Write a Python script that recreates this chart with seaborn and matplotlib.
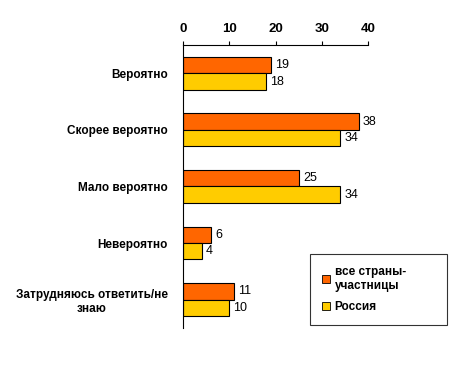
import pandas as pd
import matplotlib.pyplot as plt
import seaborn as sns

categories = ['Вероятно', 'Скорее вероятно', 'Мало вероятно', 'Невероятно',
              'Затрудняюсь ответить/не\nзнаю']
all_countries = [19, 38, 25, 6, 11]
russia = [18, 34, 34, 4, 10]
series_names = ['все страны-\nучастницы', 'Россия']
colors = ['#FF6600', '#FFCC00']

df = pd.DataFrame({
    'category': categories * 2,
    'value': all_countries + russia,
    'series': [series_names[0]] * 5 + [series_names[1]] * 5,
})

sns.set_style("white")
plt.rcParams['font.family'] = ['Liberation Sans', 'DejaVu Sans']
plt.rcParams['text.color'] = 'black'
plt.rcParams['xtick.color'] = 'black'
plt.rcParams['ytick.color'] = 'black'

fig = plt.figure(figsize=(4.59, 3.66), dpi=100)
ax = fig.add_axes([0.399, 0.104, 0.403, 0.773])

sns.barplot(data=df, y='category', x='value', hue='series', orient='h',
            palette=colors, saturation=1, width=0.58, edgecolor='black',
            linewidth=0.8, ax=ax, legend=False)

for cont in ax.containers:
    ax.bar_label(cont, padding=3, fontsize=9, color='black')

ax.set_xlim(0, 40)
ax.set_xticks([0, 10, 20, 30, 40])
ax.xaxis.tick_top()
ax.tick_params(axis='x', labelsize=9.5, length=3, width=0.8, direction='out',
               pad=4)
for lbl in ax.get_xticklabels():
    lbl.set_fontweight('bold')

ax.set_yticks(range(len(categories)))
ax.set_yticklabels(categories, fontweight='bold', fontsize=8.5, ha='right',
                   multialignment='center')
ax.tick_params(axis='y', length=0, pad=11)
ax.set_yticks([i + 0.5 for i in range(-1, len(categories))], minor=True)
ax.tick_params(axis='y', which='minor', length=4, width=0.8, direction='out')
ax.set_ylim(len(categories) - 0.5, -0.5)

ax.set_xlabel('')
ax.set_ylabel('')
for side in ['right', 'bottom']:
    ax.spines[side].set_visible(False)
for side in ['left', 'top']:
    ax.spines[side].set_color('black')
    ax.spines[side].set_linewidth(0.8)

handles = [plt.Rectangle((0, 0), 1, 1, facecolor=c, edgecolor='black', linewidth=0.6)
           for c in colors]
leg = fig.legend(handles, series_names, loc='lower left',
                 bbox_to_anchor=(0.675, 0.112, 0.298, 0.19), mode='expand',
                 borderaxespad=0, frameon=True, fancybox=False, edgecolor='black',
                 prop={'weight': 'bold', 'size': 8.5}, handlelength=0.7,
                 handleheight=0.7, handletextpad=0.4, borderpad=1.0,
                 labelspacing=0.8)
leg.get_frame().set_linewidth(0.8)

fig.savefig('out.png', dpi=100, facecolor='white')
